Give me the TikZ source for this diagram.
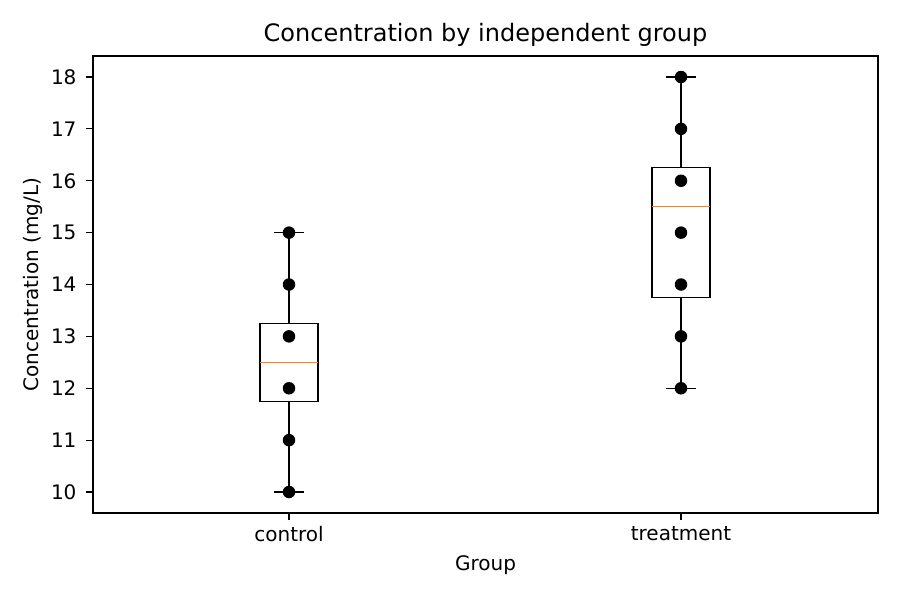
\documentclass[tikz,border=0pt]{standalone}
\usepackage{fontspec}
\setmainfont{DejaVu Sans}
\begin{document}
\begin{tikzpicture}[x=1pt,y=-1pt,
  lbl/.style={font=\fontsize{20}{24}\selectfont},
  dot/.style={circle,fill=black,inner sep=0pt,minimum size=12.5pt},
  bx/.style={draw=black,line width=1.3pt}]
\useasboundingbox (0,0) rectangle (900,600);
\def\Y#1{(492-51.875*(#1-10))}
% axes
\draw[line width=1.1pt] (93,56) rectangle (878,513);
\foreach \v in {10,...,18}{
  \draw[line width=1.1pt] (86,{492-51.875*(\v-10)}) -- (93,{492-51.875*(\v-10)});
  \node[lbl,anchor=east] (t\v) at (80,{492-51.875*(\v-10)}) {\v};
}
\foreach \x/\n in {289/control,681/treatment}{
  \draw[line width=1.1pt] (\x,513) -- (\x,520);
  \node[lbl,anchor=north] (x\n) at (\x,523) {\n};
}
\node[lbl] (xl) at (485.5,565) {Group};
\node[lbl,rotate=90] (yl) at (33,284.5) {Concentration (mg/L)};
\node[font=\fontsize{24}{28}\selectfont] (ti) at (485.5,35) {Concentration by independent group};
% control
\draw[bx] (289,{492-51.875*0}) -- (289,{492-51.875*1.75});
\draw[bx] (289,{492-51.875*3.25}) -- (289,{492-51.875*5});
\draw[bx] (274,{492-51.875*0}) -- (304,{492-51.875*0});
\draw[bx] (274,{492-51.875*5}) -- (304,{492-51.875*5});
\draw[bx] (260,{492-51.875*1.75}) rectangle (318,{492-51.875*3.25});
\draw[line width=1.3pt,color={rgb,255:red,255;green,127;blue,14}] (260,{492-51.875*2.5}) -- (318,{492-51.875*2.5});
\foreach \v in {10,11,12,13,14,15}{\node[dot] (c\v) at (289,{492-51.875*(\v-10)}) {};}
% treatment
\draw[bx] (681,{492-51.875*2}) -- (681,{492-51.875*3.75});
\draw[bx] (681,{492-51.875*6.25}) -- (681,{492-51.875*8});
\draw[bx] (666,{492-51.875*2}) -- (696,{492-51.875*2});
\draw[bx] (666,{492-51.875*8}) -- (696,{492-51.875*8});
\draw[bx] (652,{492-51.875*3.75}) rectangle (710,{492-51.875*6.25});
\draw[line width=1.3pt,color={rgb,255:red,255;green,127;blue,14}] (652,{492-51.875*5.5}) -- (710,{492-51.875*5.5});
\foreach \v in {12,...,18}{\node[dot] (d\v) at (681,{492-51.875*(\v-10)}) {};}
\end{tikzpicture}
\end{document}
